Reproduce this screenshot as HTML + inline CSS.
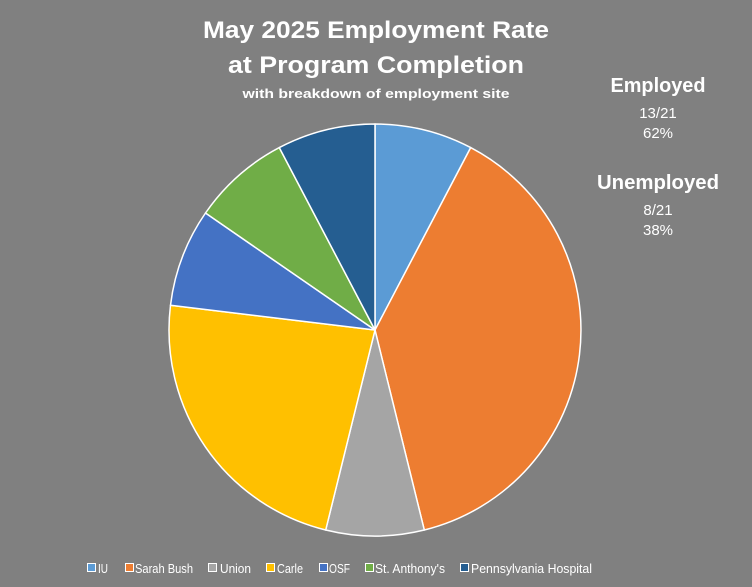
<!DOCTYPE html>
<html><head><style>html,body{margin:0;padding:0;background:#808080;}svg{display:block}</style></head>
<body>
<svg width="752" height="587" viewBox="0 0 752 587" xmlns="http://www.w3.org/2000/svg" font-family="'Liberation Sans', sans-serif">
<rect width="752" height="587" fill="#808080"/>
<g stroke="#fff" stroke-width="1.5" stroke-linejoin="round">
<path d="M375,330 L375,124 A206,206 0 0 1 470.7,147.6 Z" fill="#5B9BD5"/>
<path d="M375,330 L470.7,147.6 A206,206 0 0 1 424.3,530 Z" fill="#ED7D31"/>
<path d="M375,330 L424.3,530 A206,206 0 0 1 325.7,530 Z" fill="#A5A5A5"/>
<path d="M375,330 L325.7,530 A206,206 0 0 1 170.5,305.2 Z" fill="#FFC000"/>
<path d="M375,330 L170.5,305.2 A206,206 0 0 1 205.5,213 Z" fill="#4472C4"/>
<path d="M375,330 L205.5,213 A206,206 0 0 1 279.3,147.6 Z" fill="#70AD47"/>
<path d="M375,330 L279.3,147.6 A206,206 0 0 1 375,124 Z" fill="#255E91"/>
</g>
<g fill="#fff" font-weight="bold" text-anchor="middle">
<text x="376" y="38" font-size="24" textLength="346" lengthAdjust="spacingAndGlyphs">May 2025 Employment Rate</text>
<text x="376" y="73" font-size="24" textLength="296" lengthAdjust="spacingAndGlyphs">at Program Completion</text>
<text x="376" y="98" font-size="12.5" textLength="267" lengthAdjust="spacingAndGlyphs">with breakdown of employment site</text>
<text x="658" y="92" font-size="20" textLength="95" lengthAdjust="spacingAndGlyphs">Employed</text>
<text x="658" y="189" font-size="20" textLength="122" lengthAdjust="spacingAndGlyphs">Unemployed</text>
</g>
<g fill="#fff" text-anchor="middle" font-size="15">
<text x="658" y="118">13/21</text>
<text x="658" y="138">62%</text>
<text x="658" y="215">8/21</text>
<text x="658" y="235">38%</text>
</g>
<g stroke="#fff" stroke-width="1">
<rect x="87.5" y="563.5" width="8" height="8" fill="#5B9BD5"/>
<rect x="125.5" y="563.5" width="8" height="8" fill="#ED7D31"/>
<rect x="208.5" y="563.5" width="8" height="8" fill="#A5A5A5"/>
<rect x="266.5" y="563.5" width="8" height="8" fill="#FFC000"/>
<rect x="319.5" y="563.5" width="8" height="8" fill="#4472C4"/>
<rect x="365.5" y="563.5" width="8" height="8" fill="#70AD47"/>
<rect x="460.5" y="563.5" width="8" height="8" fill="#255E91"/>
</g>
<g fill="#fff" font-size="13">
<text x="98" y="573" textLength="10" lengthAdjust="spacingAndGlyphs">IU</text>
<text x="135" y="573" textLength="58" lengthAdjust="spacingAndGlyphs">Sarah Bush</text>
<text x="220" y="573" textLength="31" lengthAdjust="spacingAndGlyphs">Union</text>
<text x="277" y="573" textLength="26" lengthAdjust="spacingAndGlyphs">Carle</text>
<text x="329" y="573" textLength="21" lengthAdjust="spacingAndGlyphs">OSF</text>
<text x="375" y="573" textLength="70" lengthAdjust="spacingAndGlyphs">St. Anthony's</text>
<text x="471" y="573" textLength="121" lengthAdjust="spacingAndGlyphs">Pennsylvania Hospital</text>
</g>
</svg>
</body></html>
